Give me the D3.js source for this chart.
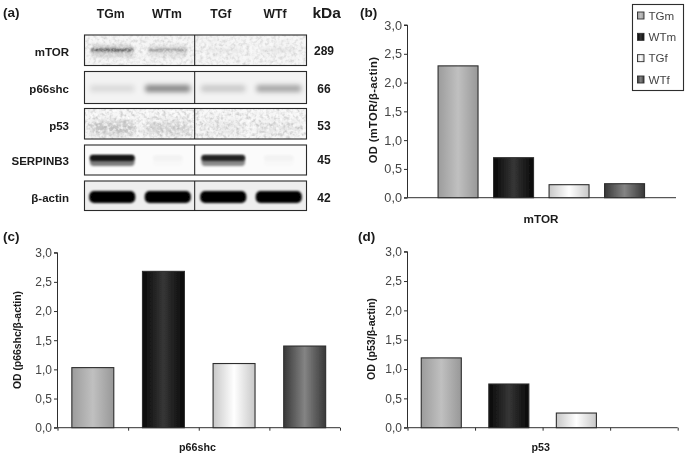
<!DOCTYPE html>
<html><head><meta charset="utf-8">
<script src="https://cdnjs.cloudflare.com/ajax/libs/d3/7.8.5/d3.min.js"></script>
<style>
html,body{margin:0;padding:0;background:#fff}
svg{display:block}
text{font-family:"Liberation Sans",Arial,sans-serif}
</style></head><body><svg id="c" width="685" height="457"></svg>
<script>
// ---- data ----
const groups = ["TGm","WTm","TGf","WTf"];
const mTORValues = [2.29,0.695,0.226,0.243];
const p66shcValues = [1.03,2.68,1.10,1.40];
const p53Values = [1.19,0.745,0.25,0];
const yTicks = [0,0.5,1,1.5,2,2.5,3];
const blotProteins = ["mTOR","p66shc","p53","SERPINB3","β-actin"];
const blotKDa = ["289","66","53","45","42"];
const mTORBand = [0.62,0.34,0.05,0.06];
const p66shcBand = [0.1,0.45,0.17,0.32];
const p53Band = [0.2,0.14,0.06,0.06];
const serpinBand = [0.85,0.02,0.75,0.02];
const actinBand = [1,1,1,1];
const blotBands = [mTORBand,p66shcBand,p53Band,serpinBand,actinBand];

// ---- layout & style ----
const rowBoxes = [[35,65.5],[71.5,103.5],[108.5,139],[145,175],[181,210.5]];
const rowStyle = [
 {cy:50,h:3,blur:.9,min:.62,bg:"#f4f4f4",dark:.28,light:.3,halo:{h:13,dy:1,op:.22}},
 {cy:88.5,h:7,blur:2.6,min:.95,bg:"#f3f3f3",dark:0,light:0},
 {cy:128,h:13,blur:3.2,min:.95,bg:"#f5f5f5",dark:.4,light:.5},
 {cy:158,h:6,blur:1.3,min:.6,bg:"#fbfbfb",dark:0,light:0,halo:{h:11,dy:2.5,op:.6}},
 {cy:197,h:12,blur:1,min:1,bg:"#eeeeee",dark:0,light:0}];
const stops = {
 TGm:["#9c9c9c","#c0c0c0","#989898"],
 WTm:["#080808","#363636","#080808"],
 TGf:["#c8c8c8","#ffffff","#c8c8c8"],
 WTf:["#383838","#848484","#383838"]};
const ink="#2e2e2e", tickInk="#444";

const svg=d3.select("#c");
const defs=svg.append("defs");
defs.append("filter").attr("id","soft")
  .attr("filterUnits","userSpaceOnUse").attr("primitiveUnits","userSpaceOnUse")
  .attr("x",0).attr("y",0).attr("width",685).attr("height",457)
  .append("feGaussianBlur").attr("stdDeviation",0.42);
groups.forEach(g=>{
  const lg=defs.append("linearGradient").attr("id","grad"+g);
  stops[g].forEach((c,i)=>lg.append("stop").attr("offset",i/2).attr("stop-color",c));
});
rowStyle.forEach((r,i)=>{
  defs.append("filter").attr("id","blur"+i).attr("x","-30%").attr("y","-150%").attr("width","160%").attr("height","400%")
    .append("feGaussianBlur").attr("stdDeviation",r.blur);
  [["dark",0.45],["light",1]].forEach(([k,col])=>{
    const f=defs.append("filter").attr("id",k+i).attr("x",0).attr("y",0).attr("width",1).attr("height",1);
    f.append("feTurbulence").attr("type","fractalNoise").attr("baseFrequency",0.3).attr("numOctaves",2).attr("seed",i*3+(k==="dark"?2:9));
    f.append("feColorMatrix").attr("values",`0 0 0 0 ${col} 0 0 0 0 ${col} 0 0 0 0 ${col} ${4*r[k]} 0 0 0 ${-1.7*r[k]}`);
    f.append("feGaussianBlur").attr("stdDeviation",0.6);
  });
});
const root=svg.append("g").attr("filter","url(#soft)");

function txt(x,y,s,o={}){
  const t=root.append("text").attr("x",x).attr("y",y).text(s)
   .attr("font-size",o.size||12).attr("font-weight",o.weight||"bold")
   .attr("fill",o.fill||"#1a1a1a").attr("text-anchor",o.anchor||"start");
  if(o.rotate) t.attr("transform",`rotate(-90 ${x} ${y})`);
  if(o.ls) t.attr("letter-spacing",o.ls);
  return t;
}

// panel labels
[["(a)",3,17],["(b)",360,17],["(c)",3,241],["(d)",358,241]].forEach(d=>txt(d[1],d[2],d[0],{size:13.5}));

// ---- (a) blots ----
const laneX=d3.scaleBand().domain(groups).range([84.5,306.5]).paddingInner(.17).paddingOuter(.085);
const headX={TGm:110.7,WTm:167,TGf:220.7,WTf:275};
groups.forEach(g=>txt(headX[g],17.5,g,{size:12.2,anchor:"middle"}));
txt(312.5,18,"kDa",{size:15.5});
const labelY=[56,93,130,165,202], kdaY=[55,92.5,130,164,202];
blotProteins.forEach((p,i)=>{
  const [y0,y1]=rowBoxes[i], r=rowStyle[i], h=y1-y0;
  const bandW=v=>laneX.bandwidth()*(r.min+(1-r.min)*Math.sqrt(v));
  const bandX=(v,j)=>laneX(groups[j])+(laneX.bandwidth()-bandW(v))/2;
  const g=root.append("g");
  g.append("rect").attr("x",84.5).attr("y",y0).attr("width",222).attr("height",h).attr("fill",r.bg);
  const cp="cp"+i;
  defs.append("clipPath").attr("id",cp).append("rect").attr("x",84.5).attr("y",y0).attr("width",222).attr("height",h);
  const inner=g.append("g").attr("clip-path",`url(#${cp})`);
  if(r.halo) inner.append("g").attr("filter",`url(#blur${i})`).selectAll("rect").data(blotBands[i]).join("rect")
    .attr("x",bandX).attr("width",bandW)
    .attr("y",r.cy+r.halo.dy-r.halo.h/2).attr("height",r.halo.h).attr("rx",r.halo.h/3)
    .attr("fill","#000").attr("opacity",v=>v*r.halo.op);
  inner.append("g").attr("filter",`url(#blur${i})`).selectAll("rect").data(blotBands[i]).join("rect")
    .attr("x",bandX).attr("width",bandW)
    .attr("y",r.cy-r.h/2).attr("height",r.h).attr("rx",r.h/2.5)
    .attr("fill","#000").attr("opacity",v=>v);
  if(r.dark>0) inner.append("rect").attr("x",84.5).attr("y",y0).attr("width",222).attr("height",h).attr("fill","#fff").attr("filter",`url(#dark${i})`);
  if(r.light>0) inner.append("rect").attr("x",84.5).attr("y",y0).attr("width",222).attr("height",h).attr("fill","#fff").attr("filter",`url(#light${i})`);
  g.append("rect").attr("x",84.5).attr("y",y0).attr("width",222).attr("height",h).attr("fill","none").attr("stroke","#2a2a2a").attr("stroke-width",1.1);
  g.append("line").attr("x1",194.7).attr("x2",194.7).attr("y1",y0).attr("y2",y1).attr("stroke","#1a1a1a").attr("stroke-width",1);
  txt(69,labelY[i],p,{size:11.5,anchor:"end"});
  txt(324,kdaY[i],blotKDa[i],{size:12,anchor:"middle"});
});

// ---- bar panels ----
function barPanel(o){
  const y=d3.scaleLinear().domain([0,3]).range([o.y0,o.y3]);
  const g=root.append("g");
  const ax=g.append("g").attr("transform",`translate(${o.x0},0)`)
    .call(d3.axisLeft(y).tickValues(yTicks).tickSize(3.5).tickPadding(2).tickFormat(d=>d3.format(".1f")(d).replace(".",",")));
  ax.selectAll("path,line").attr("stroke",ink).attr("stroke-width",1);
  ax.select("path").attr("d",`M-3.5,${o.y3}H0V${o.y0}H-3.5`);
  ax.selectAll("text").attr("font-family",'"Liberation Sans",Arial,sans-serif').attr("font-size",o.tickSize).attr("fill",tickInk);
  const xa=d3.scaleLinear().domain([0,o.n]).range([o.x0,o.x1]);
  const axb=g.append("g").attr("transform",`translate(0,${o.y0})`)
    .call(d3.axisBottom(xa).ticks(o.n).tickSize(o.n>1?3:0).tickFormat(""));
  axb.selectAll("path,line").attr("stroke",ink).attr("stroke-width",1);
  axb.select("path").attr("d",`M${o.x0},0H${o.x1}`);
  const x=d3.scaleBand().domain(groups).range(o.barRange).paddingInner(o.pad).paddingOuter(o.pad/2);
  g.selectAll("rect.bar").data(o.values.filter(v=>v>0)).join("rect").attr("class","bar")
    .attr("x",(v,i)=>x(groups[i])).attr("width",x.bandwidth())
    .attr("y",v=>y(v)).attr("height",v=>y(0)-y(v))
    .attr("fill",(v,i)=>`url(#grad${groups[i]})`).attr("stroke",ink).attr("stroke-width",1.1);
  txt(o.titleX,o.titleY,o.title,{size:o.titleSize,anchor:"middle",rotate:true,ls:o.ls});
  txt(o.catX,o.catY,o.cat,{size:o.catSize,anchor:"middle"});
}
barPanel({values:mTORValues,n:1,x0:407.5,x1:676,y0:197.7,y3:25,barRange:[430.3,652.3],pad:.28,tickSize:12.7,
  title:"OD (mTOR/β-actin)",titleX:377,titleY:110,titleSize:11.2,ls:.35,cat:"mTOR",catX:541,catY:223,catSize:11.7});
barPanel({values:p66shcValues,n:4,x0:57.5,x1:340,y0:427.7,y3:252.7,barRange:[57.5,340],pad:.406,tickSize:12,
  title:"OD (p66shc/β-actin)",titleX:20.5,titleY:340,titleSize:10.4,cat:"p66shc",catX:197.5,catY:450.5,catSize:10.7});
barPanel({values:p53Values,n:4,x0:407.5,x1:677.7,y0:427.7,y3:251.7,barRange:[407.5,677.7],pad:.407,tickSize:12,
  title:"OD (p53/β-actin)",titleX:374.5,titleY:339,titleSize:10.6,cat:"p53",catX:540.7,catY:451,catSize:10.7});

// legend
root.append("rect").attr("x",632.5).attr("y",4.5).attr("width",51).attr("height",86).attr("fill","#fff").attr("stroke",ink).attr("stroke-width",1.1);
const legY=d3.scalePoint().domain(groups).range([15.5,79.5]);
groups.forEach(g=>{
  root.append("rect").attr("x",637.5).attr("y",legY(g)-3.5).attr("width",6.5).attr("height",7)
    .attr("fill",`url(#grad${g})`).attr("stroke",ink).attr("stroke-width",.9);
  txt(648.5,legY(g)+4.3,g,{size:11.6,weight:"normal",fill:"#444"});
});
</script></body></html>
